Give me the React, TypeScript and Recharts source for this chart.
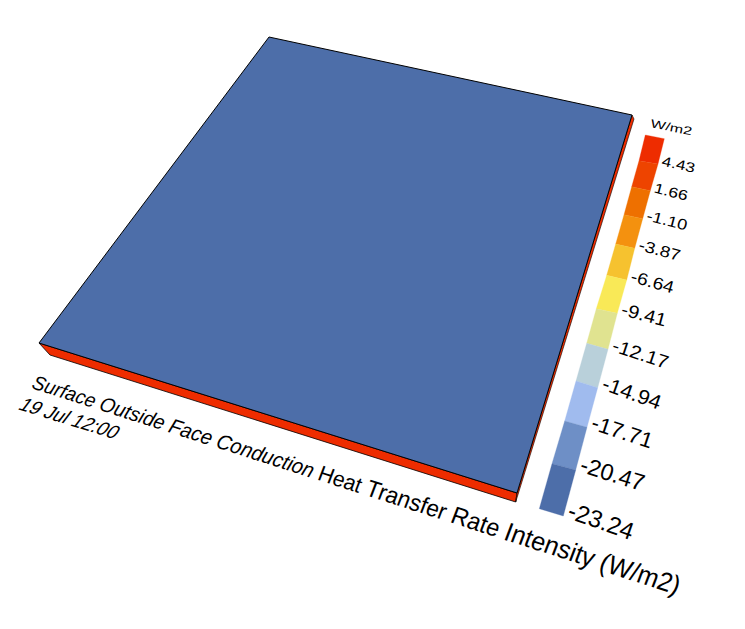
import { Scatter, ScatterChart, XAxis, YAxis } from "recharts";

const WIDTH = 745;
const HEIGHT = 629;

const legendTitle = "W/m2";
const legendLabels = ["4.43", "1.66", "-1.10", "-3.87", "-6.64", "-9.41", "-12.17", "-14.94", "-17.71", "-20.47", "-23.24"];
const legendColors = ["#ee2c00", "#ee4400", "#ee7000", "#f4910f", "#f6c22f", "#f9e957", "#e0e390", "#b9d0da", "#a0bbee", "#6e8fc6", "#4d6ea9"];
// band edges of the colour ramp, top to bottom
const rampLeftX = [645.3, 639, 631.7, 624, 615.7, 606.7, 596.3, 586.7, 576, 564.7, 552, 539.3];
const rampLeftY = [135, 160.7, 186.7, 214.7, 244, 275.3, 308.7, 343.3, 381, 421, 463.7, 508.7];
const rampRightX = [664.3, 658, 650.3, 642.7, 634.7, 626.7, 617.3, 608, 597.7, 587, 575.7, 563.3];
const rampRightY = [138.7, 164, 190.7, 218.7, 248.3, 280, 313.3, 349.3, 387.7, 427.3, 470, 516];

// the building surface
const topX = [269, 632, 517, 39];
const topY = [37, 115, 493, 343];
const frontX = [39, 517, 515.7, 50];
const frontY = [343, 493, 502, 355];
const sideX = [632, 517, 515.7, 634];
const sideY = [115, 493, 502, 119];
const topColor = "#4d6ea9";
const sideColor = "#ee2c00";

const titleWords = ["Surface", "Outside", "Face", "Conduction", "Heat", "Transfer", "Rate", "Intensity", "(W/m2)"];
const titleSizes = [19, 19.5, 20, 20, 21, 22.5, 23.5, 25, 25.2];
const dateLabel = "19 Jul 12:00";

const FONT = "Liberation Sans, Arial, sans-serif";

const toPoints = (xs: number[], ys: number[]) => {
  const pts = xs.map((x, i) => ({ x, y: ys[i] }));
  return [...pts, pts[0]];
};

const polygonLine = (fill: string, stroke: string, strokeWidth: number) => (props: any) => (
  <path
    d={"M" + props.points.map((p: any) => `${p.x},${p.y}`).join("L") + "Z"}
    fill={fill}
    stroke={stroke}
    strokeWidth={strokeWidth}
    strokeLinejoin="round"
  />
);

const noDot = () => <g />;

function skewText(cx: number, cy: number, angle: number, lean: number, sx: number, sy: number) {
  const r = (angle * Math.PI) / 180;
  const l = (lean * Math.PI) / 180;
  const a = Math.cos(r) * sx;
  const b = Math.sin(r) * sx;
  // down vector of the glyphs
  const c = (-Math.sin(r) - Math.tan(l) * Math.cos(r)) * sy;
  const d = (Math.cos(r) - Math.tan(l) * Math.sin(r)) * sy;
  return `matrix(${a} ${b} ${c} ${d} ${cx} ${cy})`;
}

const rampLabel = (props: any) => {
  const i = props.payload.index as number;
  const j = i + 1;
  const dx = rampRightX[j] - rampLeftX[j];
  const dy = rampRightY[j] - rampLeftY[j];
  const ux = rampLeftX[j - 1] - rampLeftX[j];
  const uy = rampLeftY[j - 1] - rampLeftY[j];
  const h = Math.hypot(ux, uy);
  const angle = (Math.atan2(dy, dx) * 180) / Math.PI + 2.5;
  const sx = (8.8 + 0.325 * h) / 10;
  const sy = (0.52 * h) / 10;
  return (
    <text transform={skewText(props.cx, props.cy, angle, 0, sx, sy)} fontFamily={FONT} fontSize={10} fill="#000">
      {legendLabels[i]}
    </text>
  );
};

const unitLabel = (props: any) => (
  <text transform={skewText(props.cx, props.cy, 11.5, 0, 1.4, 1)} fontFamily={FONT} fontSize={11.5} fill="#000">
    {legendTitle}
  </text>
);

const titleLabel = (props: any) => (
  <text transform={skewText(props.cx, props.cy, 17.76, 3, 1, 1.05)} fontFamily={FONT} fill="#000">
    {titleWords.map((word, i) => (
      <tspan key={word} fontSize={titleSizes[i]} fontStyle={i < 4 ? "italic" : "normal"}>
        {i < titleWords.length - 1 ? word + " " : word}
      </tspan>
    ))}
  </text>
);

const dateText = (props: any) => (
  <text transform={skewText(props.cx, props.cy, 17.2, 20, 1, 1.05)} fontFamily={FONT} fontSize={18.6} fill="#000">
    {dateLabel}
  </text>
);

const labelAnchors = legendLabels.map((_, i) => ({
  x: rampRightX[i + 1] + 3,
  y: rampRightY[i + 1] + 1.5,
  index: i,
}));

export default function App() {
  return (
    <div style={{ position: "absolute", left: 0, top: 0, width: WIDTH, height: HEIGHT }}>
      <ScatterChart width={WIDTH} height={HEIGHT} margin={{ top: 0, right: 0, bottom: 0, left: 0 }}>
        <XAxis type="number" dataKey="x" domain={[0, WIDTH]} hide />
        <YAxis type="number" dataKey="y" domain={[0, HEIGHT]} reversed hide />

        <Scatter data={toPoints(frontX, frontY)} shape={noDot} line={polygonLine(sideColor, "#000", 0.8)} isAnimationActive={false} />
        <Scatter data={toPoints(sideX, sideY)} shape={noDot} line={polygonLine(sideColor, "#000", 0.6)} isAnimationActive={false} />
        <Scatter data={toPoints(topX, topY)} shape={noDot} line={polygonLine(topColor, "#000", 1)} isAnimationActive={false} />

        {legendColors.map((color, i) => (
          <Scatter
            key={color}
            data={[
              { x: rampLeftX[i], y: rampLeftY[i] },
              { x: rampRightX[i], y: rampRightY[i] },
              { x: rampRightX[i + 1], y: rampRightY[i + 1] },
              { x: rampLeftX[i + 1], y: rampLeftY[i + 1] },
            ]}
            shape={noDot}
            line={polygonLine(color, color, 0.3)}
            isAnimationActive={false}
          />
        ))}

        <Scatter data={labelAnchors} shape={rampLabel} isAnimationActive={false} />
        <Scatter data={[{ x: 650, y: 127 }]} shape={unitLabel} isAnimationActive={false} />
        <Scatter data={[{ x: 30.7, y: 388 }]} shape={titleLabel} isAnimationActive={false} />
        <Scatter data={[{ x: 17, y: 409 }]} shape={dateText} isAnimationActive={false} />
      </ScatterChart>
    </div>
  );
}
